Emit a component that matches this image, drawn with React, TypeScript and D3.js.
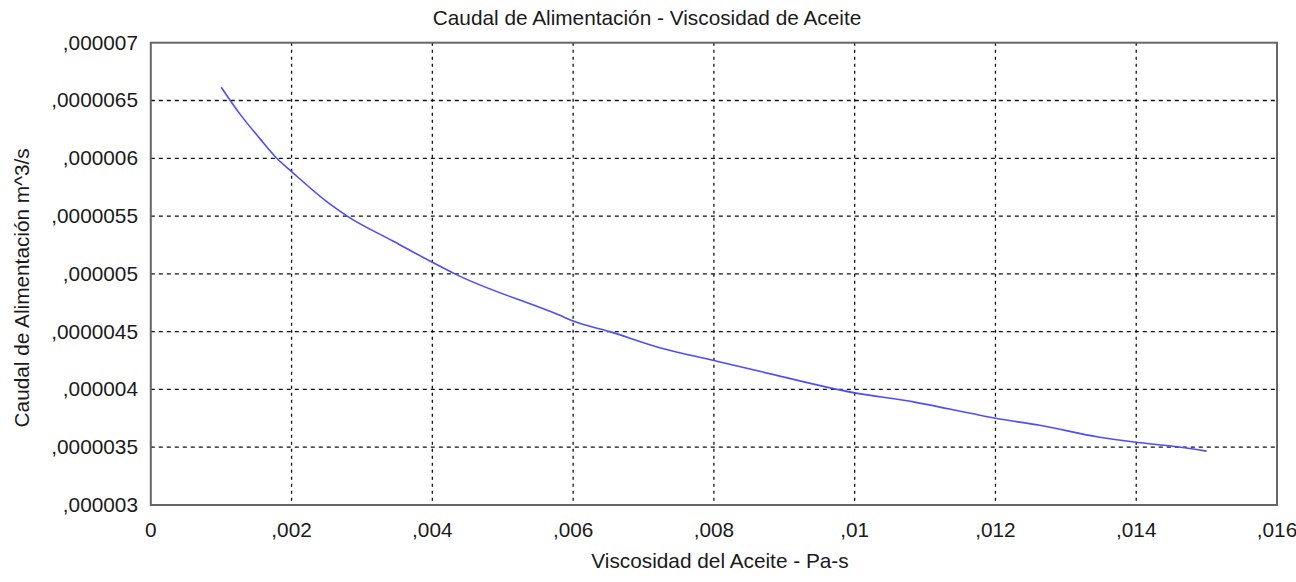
import React from "react";
import * as d3 from "d3";

const title = "Caudal de Alimentación - Viscosidad de Aceite";
const xLabel = "Viscosidad del Aceite - Pa-s";
const yLabel = "Caudal de Alimentación m^3/s";

const xTicks = [0, 0.002, 0.004, 0.006, 0.008, 0.01, 0.012, 0.014, 0.016];
const xTickLabels = ["0", ",002", ",004", ",006", ",008", ",01", ",012", ",014", ",016"];
const yTicks = [3e-6, 3.5e-6, 4e-6, 4.5e-6, 5e-6, 5.5e-6, 6e-6, 6.5e-6, 7e-6];
const yTickLabels = [",000003", ",0000035", ",000004", ",0000045", ",000005", ",0000055", ",000006", ",0000065", ",000007"];

const viscosity = [0.001, 0.00127, 0.00155, 0.00179, 0.002, 0.0025, 0.00279, 0.00344, 0.004, 0.00432, 0.00581, 0.006, 0.00652, 0.00723, 0.008, 0.00865, 0.01, 0.01085, 0.01135, 0.012, 0.01263, 0.01348, 0.014, 0.01455, 0.015];
const flow = [6.615e-6, 6.38e-6, 6.17e-6, 6.0e-6, 5.885e-6, 5.625e-6, 5.5e-6, 5.284e-6, 5.1e-6, 5.0e-6, 4.641e-6, 4.592e-6, 4.5e-6, 4.361e-6, 4.25e-6, 4.157e-6, 3.97e-6, 3.89e-6, 3.83e-6, 3.75e-6, 3.69e-6, 3.586e-6, 3.543e-6, 3.506e-6, 3.466e-6];

const W = 1296;
const H = 582;
const L = 150.8;
const R = 1277;
const T = 42.7;
const B = 505;

export default function App() {
  const x = d3.scaleLinear().domain([0, 0.016]).range([L, R]);
  const y = d3.scaleLinear().domain([3e-6, 7e-6]).range([B, T]);
  const pts: [number, number][] = viscosity.map((v, i) => [v, flow[i]]);
  const line = d3
    .line<[number, number]>()
    .x((d) => x(d[0]))
    .y((d) => y(d[1]))
    .curve(d3.curveMonotoneX);
  const font = "'Liberation Sans', Arial, sans-serif";
  const textColor = "#1a1a1a";
  const fs = 20.8;
  return (
    <svg
      width={W}
      height={H}
      style={{ position: "absolute", left: 0, top: 0, background: "#fff" }}
      fontFamily={font}
    >
      <rect x={0} y={0} width={W} height={H} fill="#fff" />
      {xTicks.slice(1, -1).map((t) => (
        <line key={"gx" + t} x1={x(t)} x2={x(t)} y1={T} y2={B} stroke="#111" strokeWidth={1.3} strokeDasharray="3,4" />
      ))}
      {yTicks.slice(1, -1).map((t) => (
        <line key={"gy" + t} x1={L} x2={R} y1={y(t)} y2={y(t)} stroke="#111" strokeWidth={1.3} strokeDasharray="4,4" />
      ))}
      <path d={line(pts) || ""} fill="none" stroke="#4d4dff" strokeWidth={1.6} />
      <rect x={L} y={T} width={R - L} height={B - T} fill="none" stroke="#666" strokeWidth={2} />
      {xTicks.map((t, i) => (
        <text key={"xt" + t} x={x(t)} y={537} textAnchor="middle" fontSize={fs} fill={textColor}>
          {xTickLabels[i]}
        </text>
      ))}
      {yTicks.map((t, i) => (
        <text key={"yt" + t} x={138} y={y(t) + 7} textAnchor="end" fontSize={fs} fill={textColor}>
          {yTickLabels[i]}
        </text>
      ))}
      <text x={647} y={25} textAnchor="middle" fontSize={fs} fill={textColor}>
        {title}
      </text>
      <text x={720} y={568} textAnchor="middle" fontSize={fs} fill={textColor}>
        {xLabel}
      </text>
      <text
        transform={`translate(29,${(T + B) / 2 + 14}) rotate(-90)`}
        textAnchor="middle"
        fontSize={fs}
        fill={textColor}
      >
        {yLabel}
      </text>
    </svg>
  );
}
